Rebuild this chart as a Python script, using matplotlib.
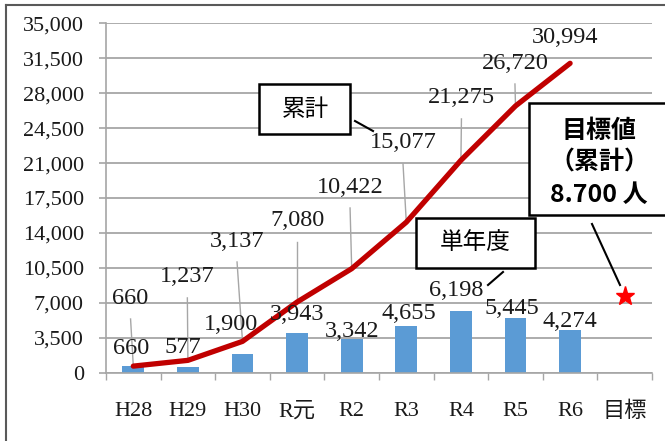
import matplotlib
matplotlib.use("Agg")
import matplotlib.pyplot as plt
from matplotlib.lines import Line2D
from matplotlib.patches import Rectangle

plt.rcParams['font.family'] = ['Liberation Serif', 'Noto Sans CJK JP']

categories = ['H28', 'H29', 'H30', 'R元', 'R2', 'R3', 'R4', 'R5', 'R6', '目標']
annual = [660, 577, 1900, 3943, 3342, 4655, 6198, 5445, 4274]
cumulative = [660, 1237, 3137, 7080, 10422, 15077, 21275, 26720, 30994]
target_marker = 7700
yticks = [0, 3500, 7000, 10500, 14000, 17500, 21000, 24500, 28000, 31500, 35000]

# label positions (data coords)
cum_label_pos = [(-0.05, 7480), (0.99, 9590), (1.90, 13190), (3.00, 15200), (3.97, 18600),
                 (4.94, 23010), (6.01, 27520), (6.99, 31020), (7.91, 33530)]
bar_label_pos = [(-0.04, 2470), (0.90, 2570), (1.79, 4780), (3.00, 5780), (4.01, 4080),
                 (5.04, 5980), (5.92, 8280), (6.94, 6480), (8.00, 5080)]

fig = plt.figure(figsize=(6.65, 4.41), dpi=100)
ax = fig.add_axes([106/665, 68.3/441, 546/665, 349.4/441])

grid_c = '#A6A6A6'
x = list(range(len(categories)))
ax.bar(x[:len(annual)], annual, width=0.4, color='#5B9BD5', zorder=2)
ax.plot(x[:len(cumulative)], cumulative, color='#C00000', lw=3.8, zorder=4, solid_capstyle='round')
ax.plot([x[-1]], [target_marker], marker='*', color='#FF0000', markersize=14, zorder=5, lw=0)

ax.set_xlim(-0.5, len(categories) - 0.5)
ax.set_ylim(0, 35000)
ax.set_yticks(yticks)
ax.set_yticklabels([f'{v:,}' for v in yticks], fontsize=16, color='#1a1a1a')
ax.set_xticks(x)
ax.set_xticklabels(categories, fontsize=16, color='#1a1a1a')
ax.set_xticks([i - 0.5 for i in range(len(categories) + 1)], minor=True)
ax.tick_params(axis='x', which='major', length=0, pad=21)
ax.tick_params(axis='x', which='minor', length=5, color=grid_c, width=1)
ax.tick_params(axis='y', which='major', length=5, color=grid_c, width=1.2, pad=11)
ax.yaxis.grid(True, color=grid_c, lw=1.3, zorder=0)
ax.set_axisbelow(True)
for s in ['top', 'right']:
    ax.spines[s].set_visible(False)
for s in ['left', 'bottom']:
    ax.spines[s].set_color(grid_c)
    ax.spines[s].set_linewidth(1.2)

txt_c = '#1a1a1a'
lead_c = '#A6A6A6'
for i, ((lx, ly), v) in enumerate(zip(cum_label_pos, cumulative)):
    ax.text(lx, ly, f'{v:,}', ha='center', va='center', fontsize=17.5, color=txt_c, zorder=6)
    if i < len(cumulative) - 1:
        ax.plot([lx, i], [ly - 2100, v], color=lead_c, lw=1, zorder=3)
for (lx, ly), v in zip(bar_label_pos, annual):
    ax.text(lx, ly, f'{v:,}', ha='center', va='center', fontsize=17.5, color=txt_c, zorder=6)

# outer frame
fig.add_artist(Line2D([6/665, 6/665], [0, 1 - 5/441], color='#595959', lw=1.5))
fig.add_artist(Line2D([6/665, 1], [1 - 5/441, 1 - 5/441], color='#595959', lw=1.5))

def fbox(x0, y0, x1, y1):
    fig.add_artist(Rectangle((x0/665, 1 - y1/441), (x1 - x0)/665, (y1 - y0)/441,
                             transform=fig.transFigure, facecolor='white',
                             edgecolor='black', lw=1.8, zorder=10))

def fline(x0, y0, x1, y1):
    fig.add_artist(Line2D([x0/665, x1/665], [1 - y0/441, 1 - y1/441], color='black', lw=1.5, zorder=10))

jp = ['Noto Sans CJK JP', 'DejaVu Sans']
fbox(259, 84, 350, 134)
fline(355, 121, 373, 131)
fig.text(305/665, 1 - 109/441, '累計', ha='center', va='center', fontsize=17, family=jp, zorder=11)

fbox(416, 218, 535, 268)
fline(503, 272, 488, 285)
fig.text(475/665, 1 - 243/441, '単年度', ha='center', va='center', fontsize=17, family=jp, zorder=11)

fbox(529, 103, 670, 215)
fline(592, 224, 620, 285)
fig.text(599/665, 1 - 131/441, '目標値', ha='center', va='center', fontsize=18, family=jp, weight='bold', zorder=11)
fig.text(599/665, 1 - 163/441, '（累計）', ha='center', va='center', fontsize=18, family=jp, weight='bold', zorder=11)
fig.text(599/665, 1 - 195/441, '8.700 人', ha='center', va='center', fontsize=18, family=jp, weight='bold', zorder=11)

fig.savefig('out.png', dpi=100)
